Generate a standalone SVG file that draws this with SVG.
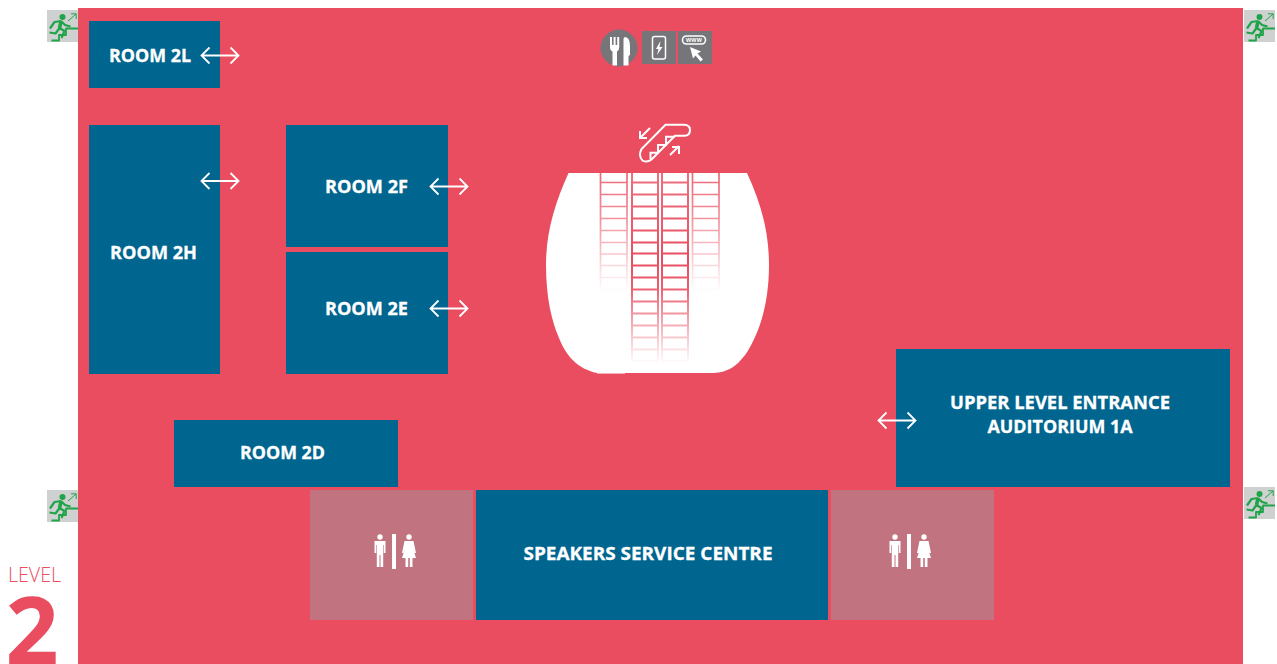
<svg xmlns="http://www.w3.org/2000/svg" width="1277" height="664" viewBox="0 0 1277 664">
<style>
.t{font-family:"Open Sans","Noto Sans","Liberation Sans",sans-serif;font-weight:700;font-size:18.5px;fill:#fff;stroke:#fff;stroke-width:.3;text-anchor:middle}
.room{fill:#00658f}
.wc{fill:#c1737f}
.ar{fill:none;stroke:#fff;stroke-width:1.8}
.ic{fill:#76767a}
.w{fill:#fff}
.wl{fill:none;stroke:#fff;stroke-width:2}
</style>
<defs>
<linearGradient id="go" gradientUnits="userSpaceOnUse" x1="0" y1="173" x2="0" y2="292">
<stop offset="0" stop-color="#e94d5f" stop-opacity=".85"/><stop offset=".4" stop-color="#e94d5f" stop-opacity=".6"/><stop offset="1" stop-color="#e94d5f" stop-opacity="0"/>
</linearGradient>
<linearGradient id="gi" gradientUnits="userSpaceOnUse" x1="0" y1="173" x2="0" y2="364">
<stop offset="0" stop-color="#e94d5f" stop-opacity=".8"/><stop offset=".45" stop-color="#e94d5f"/><stop offset=".6" stop-color="#e94d5f" stop-opacity=".9"/><stop offset="1" stop-color="#e94d5f" stop-opacity="0"/>
</linearGradient>
<g id="arrow" class="ar"><path d="M-17.500 0H17.500M-10.500-8-18.500 0-10.500 8M10.500-8 18.500 0 10.500 8"/></g>
<g id="exit">
<rect width="31" height="32" fill="#cfd0d0"/>
<circle cx="15.500" cy="7" r="3" fill="#1fa44a"/>
<g fill="none" stroke="#1fa44a" stroke-linejoin="round">
<path stroke-width="3.600" d="M14 11.500 12.500 18"/>
<path stroke-width="2.200" d="M14 11 7.500 12 3 18.500M14 11 18 15 23.500 16.500M12.500 18 17.500 21 14.500 28M12.500 18 8.500 23.500 2.500 22.500"/>
<path stroke-width="1.800" d="M4.500 30.500H12V25H19V18.500H31"/>
<path stroke-width="1" d="M21 11 29 4M24 3.800H29.200V9"/>
</g>
</g>
<g id="toilets" fill="#fff">
<circle cx="-14" cy="-13" r="2.700"/><path d="M-19.500-9H-8.500V3H-10.200V-5H-10.800V17H-13.500V5H-14.500V17H-17.200V-5H-17.800V3H-19.500z"/>
<rect x="-2" y="-16" width="4" height="35"/>
<circle cx="15" cy="-13" r="2.700"/><path d="M10.500-9H19.500L22 3H20.500L18.500-3 22 8H18.500V17H15.800V8H14.200V17H11.500V8H8L11.500-3 9.500 3H8z"/>
</g>
</defs>

<rect id="floor" x="78" y="8" width="1165" height="656" fill="#e94d5f"/>

<g id="exit-tl"><use href="#exit" x="47" y="10"/></g>
<g id="exit-tr"><use href="#exit" x="1244" y="10"/></g>
<g id="exit-bl"><use href="#exit" x="47" y="490"/></g>
<g id="exit-br"><use href="#exit" x="1244" y="487"/></g>

<g id="room-2l"><rect class="room" x="89" y="21" width="131" height="67"/><text class="t" x="150" y="62" textLength="82" lengthAdjust="spacingAndGlyphs">ROOM 2L</text></g>
<g id="room-2h"><rect class="room" x="89" y="125" width="131" height="249"/><text class="t" x="153.500" y="259" textLength="87" lengthAdjust="spacingAndGlyphs">ROOM 2H</text></g>
<g id="room-2f"><rect class="room" x="286" y="125" width="162" height="122"/><text class="t" x="366.500" y="193" textLength="83" lengthAdjust="spacingAndGlyphs">ROOM 2F</text></g>
<g id="room-2e"><rect class="room" x="286" y="252" width="162" height="122"/><text class="t" x="366.500" y="315" textLength="83" lengthAdjust="spacingAndGlyphs">ROOM 2E</text></g>
<g id="room-2d"><rect class="room" x="174" y="420" width="224" height="67"/><text class="t" x="282.500" y="459" textLength="85" lengthAdjust="spacingAndGlyphs">ROOM 2D</text></g>
<g id="room-1a"><rect class="room" x="896" y="349" width="334" height="138"/><text class="t" x="1060" y="409" textLength="220" lengthAdjust="spacingAndGlyphs">UPPER LEVEL ENTRANCE</text><text class="t" x="1060" y="433" textLength="145" lengthAdjust="spacingAndGlyphs">AUDITORIUM 1A</text></g>
<g id="speakers"><rect class="room" x="476" y="490" width="352" height="130"/><text class="t" x="648" y="560" textLength="249" lengthAdjust="spacingAndGlyphs">SPEAKERS SERVICE CENTRE</text></g>
<g id="wc-left"><rect class="wc" x="310" y="490" width="163" height="130"/><use href="#toilets" x="394" y="550"/></g>
<g id="wc-right"><rect class="wc" x="831" y="490" width="163" height="130"/><use href="#toilets" x="909" y="550"/></g>

<g id="connectors">
<use href="#arrow" x="220" y="55.500"/>
<use href="#arrow" x="220" y="181"/>
<use href="#arrow" x="449" y="186.500"/>
<use href="#arrow" x="449" y="308.500"/>
<use href="#arrow" x="897" y="420.500"/>
</g>

<g id="services">
<circle class="ic" cx="619" cy="48" r="18.500"/>
<path class="w" d="M610 37H612V45H613.600V37H615.600V45H617.200V37H619.200V47Q619.200 50.500 617 51.500V65.500H612.500V51.500Q610 50.500 610 47z"/>
<path class="w" d="M625.500 37Q630 38 630 46V55L628.500 56V65.500H623.500V39Q623.500 37 625.500 37z"/>
<rect class="ic" x="642" y="31" width="34" height="33"/>
<rect x="652.500" y="36.500" width="13" height="22.500" rx="2" fill="none" stroke="#fff" stroke-width="1.500"/>
<path class="w" d="M660.500 41 656 49H658.500L657 55 662.500 47H659.500z"/>
<rect class="ic" x="678" y="31" width="34" height="33"/>
<rect x="682.500" y="36" width="23" height="8" rx="4" fill="none" stroke="#fff" stroke-width="1.600"/>
<text x="694" y="42.300" font-family="'Liberation Sans',sans-serif" font-size="6.500" font-weight="700" fill="#fff" text-anchor="middle" letter-spacing=".3">www</text>
<path class="w" d="M690 47 701 51.500 697.500 53.500 703 59.500 700.500 61.500 695.500 55.500 693 58.500z"/>
</g>

<g id="escalator">
<path class="wl" stroke-width="2.200" d="M665.500 124.800H684Q690 125 690 130 690 135.500 684.500 135.800H675L651.500 159.500Q647 163 642.500 160.500 638 156 641.500 149z"/>
<path class="wl" stroke-width="1.600" d="M650.500 159V152.700H658V145H666V136.700H675"/>
<path class="wl" stroke-width="1.300" d="M650 128 640 138M640 131V138H647"/>
<path class="wl" stroke-width="1.300" d="M670 155 679 146M672 147H679V154"/>
</g>

<g id="stage">
<path fill="#fff" d="M568.500 173H747C761 203 769 232 769 265 769 298 762 322 755 337 746 358 733 373 713 373H597C578 369 566 356 559 338 552 322 546 298 546 265 546 232 555 203 568.500 173z"/>
<path d="M597 373.600H625" stroke="#fff" stroke-width=".8" opacity=".8"/>
<path fill="none" stroke="url(#go)" stroke-width="1.700" d="M600.500 173V292M627 173V292M692.500 173V292M719 173V292M600 182.500H627M600 194.500H627M600 206.500H627M600 218.500H627M600 230.500H627M600 242.500H627M600 254H627M600 265.500H627M600 277.500H627M600 289.500H627M692 182.500H719M692 194.500H719M692 206.500H719M692 218.500H719M692 230.500H719M692 242.500H719M692 254H719M692 265.500H719M692 277.500H719M692 289.500H719"/>
<path fill="none" stroke="url(#gi)" stroke-width="2" d="M632 173V364M658 173V364M662 173V364M688 173V364M632 182.500H658M632 194.500H658M632 206.500H658M632 218.500H658M632 230.500H658M632 242.500H658M632 253.500H658M632 265.500H658M632 277.500H658M632 289.500H658M632 301.500H658M632 313.500H658M632 325.500H658M632 337.500H658M632 349.500H658M632 361H658M662 182.500H688M662 194.500H688M662 206.500H688M662 218.500H688M662 230.500H688M662 242.500H688M662 253.500H688M662 265.500H688M662 277.500H688M662 289.500H688M662 301.500H688M662 313.500H688M662 325.500H688M662 337.500H688M662 349.500H688M662 361H688"/>
</g>

<g id="level">
<text x="34.500" y="582" font-family="'Open Sans','Noto Sans',sans-serif" font-size="19.500" font-weight="300" fill="#e94d5f" text-anchor="middle" textLength="53" lengthAdjust="spacingAndGlyphs">LEVEL</text>
<text x="32" y="664" font-family="'Open Sans','Noto Sans',sans-serif" font-size="93" font-weight="700" fill="#e94d5f" text-anchor="middle">2</text>
</g>
</svg>
